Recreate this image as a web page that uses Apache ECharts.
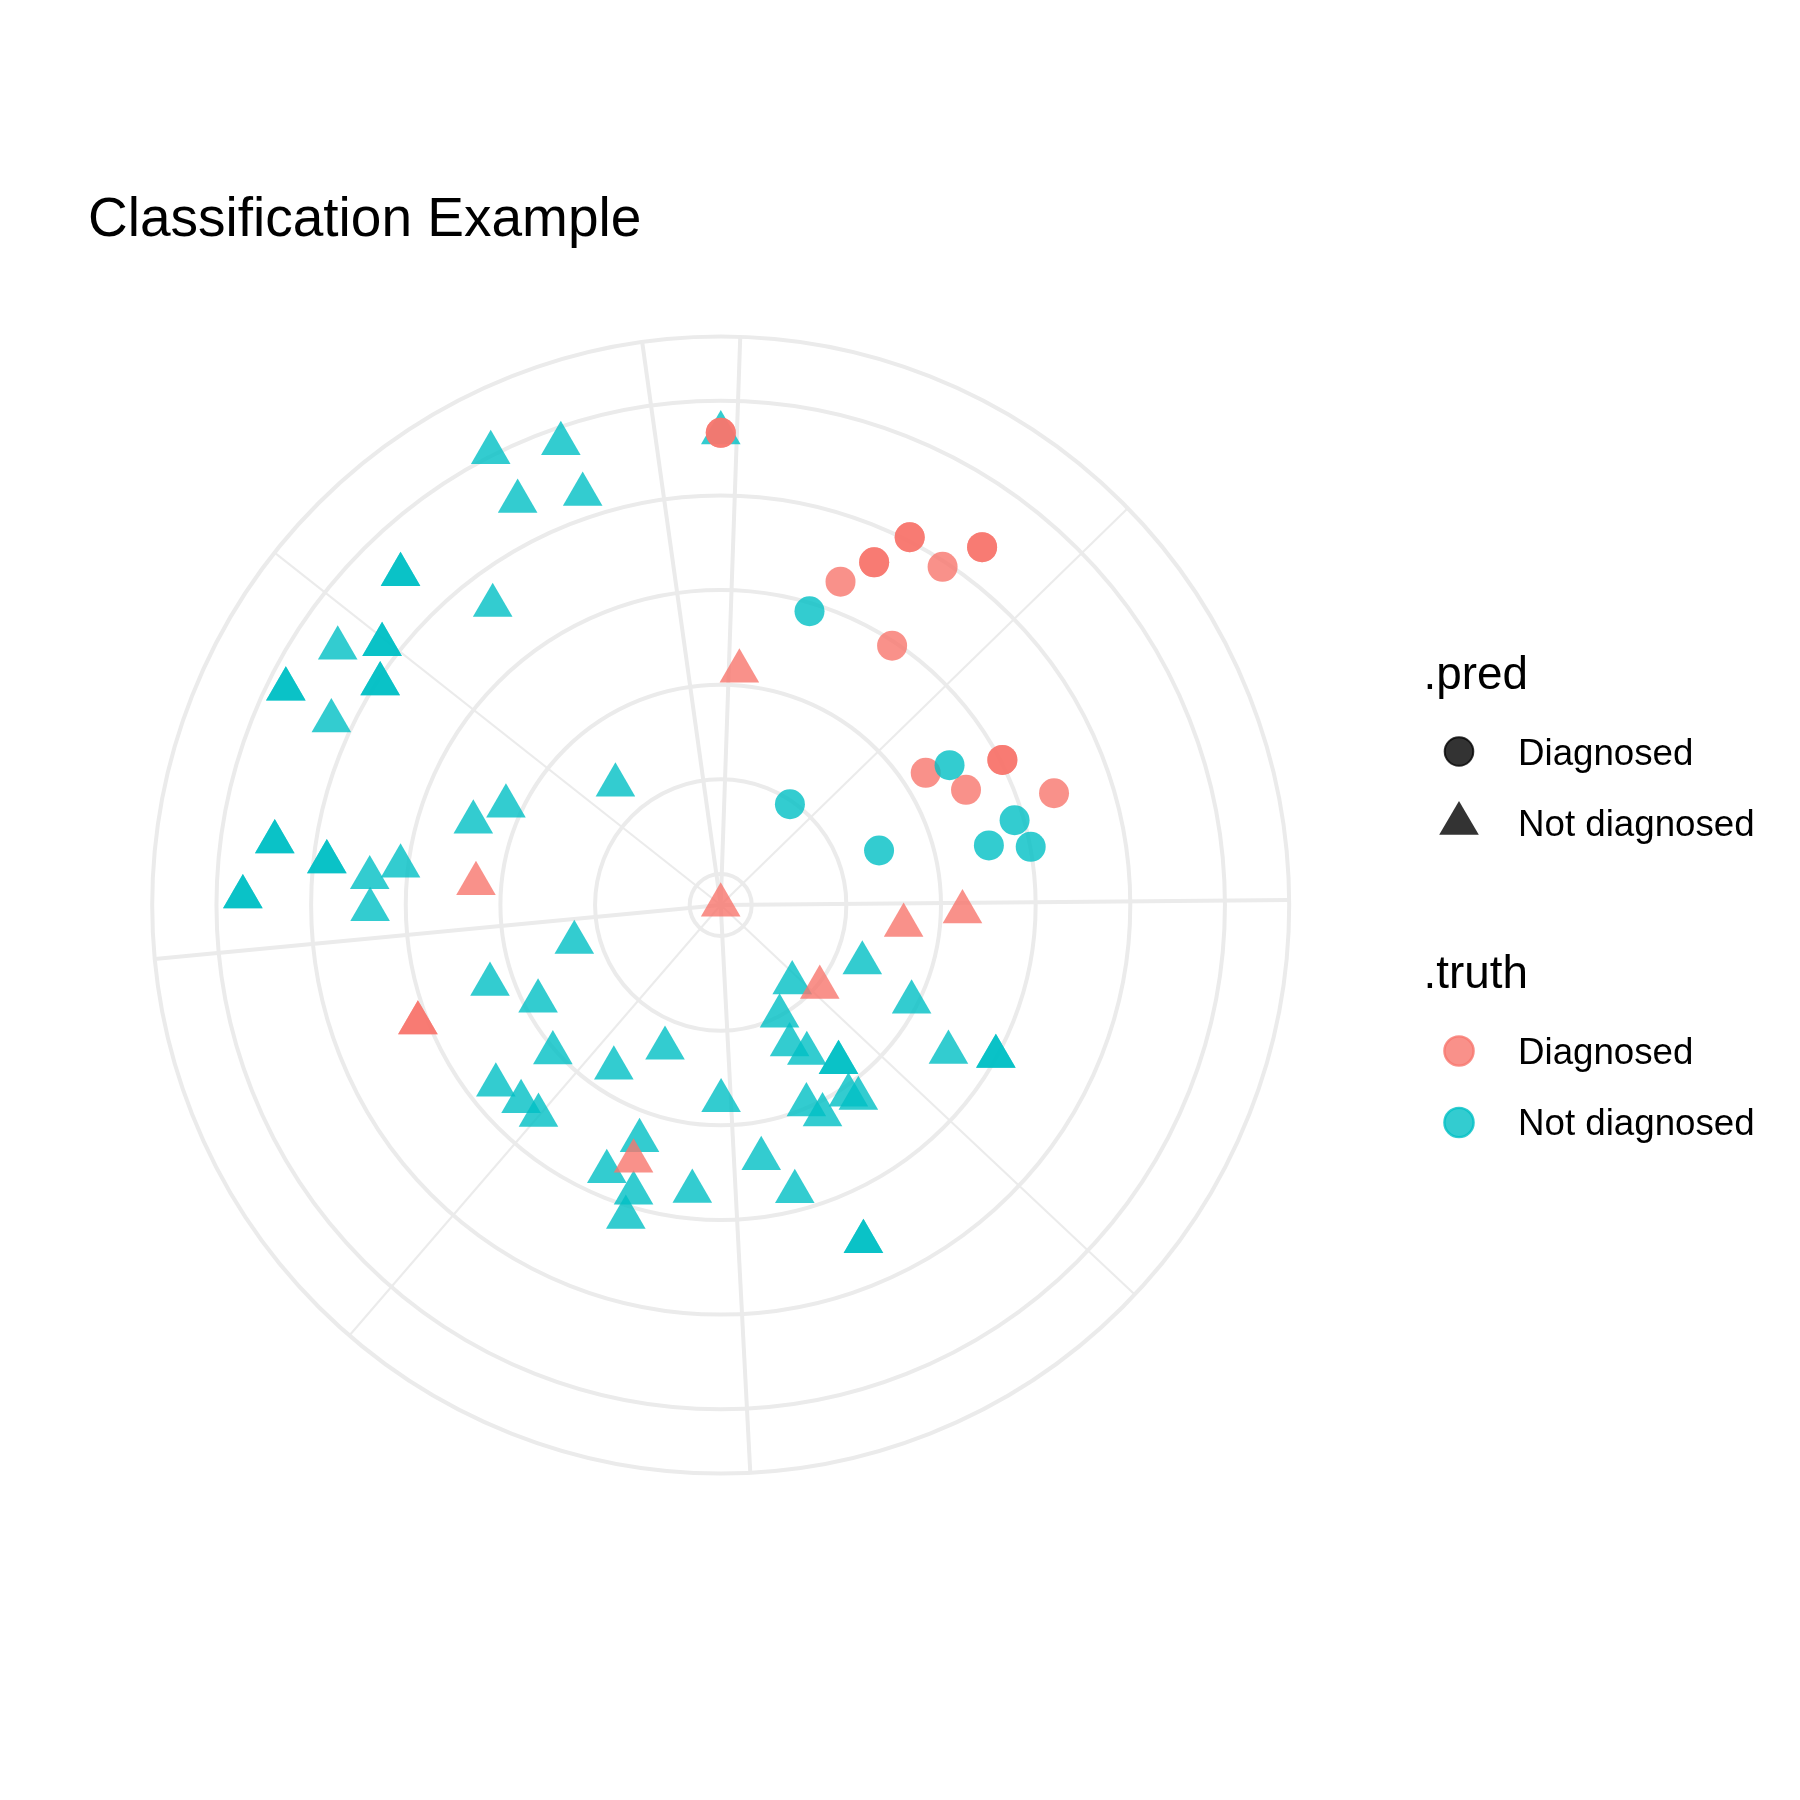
<!DOCTYPE html>
<html>
<head>
<meta charset="utf-8">
<script src="https://cdn.jsdelivr.net/npm/echarts@6/dist/echarts.min.js"></script>
<style>html,body{margin:0;padding:0;background:#fff}#chart{width:1800px;height:1800px}</style>
</head>
<body>
<div id="chart"></div>
<script>
// ---- data ----
const chartTitle = 'Classification Example';
const predLevels = ['Diagnosed', 'Not diagnosed'];
const truthLevels = ['Diagnosed', 'Not diagnosed'];
const thetaBreaks = [0, 25, 50, 75, 100];
const thetaMinorBreaks = [12.5, 37.5, 62.5, 87.5];
const thetaRange = [0, 102.83];
const radiusRange = [-0.3275, 5.679];

// each point: [radius, theta]
// .pred = Diagnosed, .truth = Diagnosed
const predDiagTruthDiag = [
  [4.661, 102.27], [4.661, 102.27],
  [4.041, 7.207], [4.041, 7.207],
  [3.640, 6.327], [3.640, 6.327],
  [4.354, 9.764], [4.354, 9.764],
  [3.020, 17.36], [3.020, 17.36],
  [3.316, 5.245], [3.946, 8.941], [2.957, 8.995],
  [2.250, 15.77], [2.536, 17.96], [3.387, 19.85]
];
// .pred = Diagnosed, .truth = Not diagnosed
const predDiagTruthNot = [
  [2.915, 4.242], [0.964, 9.289], [1.442, 19.72], [2.506, 16.17],
  [2.904, 20.55], [2.575, 21.57], [3.005, 22.11]
];
// .pred = Not diagnosed, .truth = Diagnosed
const predNotTruthDiag = [
  [2.151, 0.743], [-0.3275, 0], [2.268, 77.99], [1.617, 26.96],
  [2.228, 25.61], [1.034, 36.50], [3.106, 70.48], [3.106, 70.48],
  [2.531, 56.22]
];
// .pred = Not diagnosed, .truth = Not diagnosed
const predNotTruthNot = [
  [4.661, 102.27], [5.034, 94.57], [4.833, 96.81], [4.447, 94.64], [4.249, 96.96],
  [4.533, 89.67], [4.533, 89.67], [3.650, 91.62], [4.545, 86.23],
  [4.186, 87.29], [4.186, 87.29], [4.802, 84.10], [4.802, 84.10],
  [3.963, 85.99], [3.963, 85.99], [4.223, 83.79], [1.359, 90.48],
  [2.171, 83.63], [2.429, 81.85], [4.431, 78.86], [4.431, 78.86],
  [3.859, 78.35], [3.859, 78.35], [3.080, 78.54], [3.392, 77.83],
  [4.722, 76.84], [4.722, 76.84], [3.377, 76.35],
  [1.289, 31.50], [0.789, 38.69], [1.935, 32.84], [1.001, 42.88],
  [1.320, 43.36], [1.486, 42.25], [1.752, 40.35], [1.752, 40.35],
  [2.538, 34.54], [2.991, 33.38], [2.991, 33.38], [2.092, 41.17],
  [2.181, 40.73], [1.969, 44.22], [2.137, 43.46], [1.740, 50.82],
  [2.386, 48.26], [2.799, 46.71], [3.536, 44.29], [3.536, 44.29],
  [1.269, 72.46], [2.250, 71.14], [1.853, 68.63], [2.036, 64.74],
  [1.296, 56.92], [1.732, 60.35], [2.716, 65.51], [2.633, 63.83],
  [2.612, 62.54], [2.306, 56.28], [2.736, 57.46], [2.852, 55.66],
  [2.713, 52.47], [3.121, 55.68]
];

// ---- styling ----
const RED = '#F8766D', TEAL = '#00BFC4', GRID = '#EBEBEB';
const FONT = "'Liberation Sans', Arial, Helvetica, sans-serif";
const CENTER = [720.7, 905];
const RADIUS = 568.5;
const START = 88.03;
const TRI = [39.6, 34.2];
const TRI_OFF = [0, -TRI[1] / 6];
const CIRC = 30;

const chart = echarts.init(document.getElementById('chart'), null, {renderer: 'canvas'});

function angleAxisFor(idx, major) {
  return {
    polarIndex: idx, type: 'value', min: thetaRange[0], max: thetaRange[1],
    startAngle: START, clockwise: true,
    interval: major ? thetaBreaks[1] - thetaBreaks[0] : undefined,
    axisLine: {show: false},
    axisTick: major ? {show: false} : {show: false, customValues: thetaMinorBreaks},
    axisLabel: {show: false},
    splitLine: {show: true, lineStyle: {color: GRID, width: major ? 4 : 2}}
  };
}

const scatterBase = {
  type: 'scatter', coordinateSystem: 'polar', polarIndex: 0,
  silent: true, animation: false, clip: false,
  emphasis: {disabled: true}
};

const textStyle = (text, size) => ({
  text: text, fontSize: size, fontFamily: FONT, fill: '#000',
  verticalAlign: 'middle', align: 'left'
});

const option = {
  backgroundColor: '#ffffff',
  animation: false,
  polar: [
    {center: CENTER, radius: RADIUS},
    {center: CENTER, radius: RADIUS}
  ],
  angleAxis: [angleAxisFor(0, true), angleAxisFor(1, false)],
  radiusAxis: [
    {
      polarIndex: 0, type: 'value', min: radiusRange[0], max: radiusRange[1],
      minInterval: 1, maxInterval: 1,
      axisLine: {show: false}, axisTick: {show: false}, axisLabel: {show: false},
      splitLine: {show: true, lineStyle: {color: GRID, width: 4}}
    },
    {
      polarIndex: 1, type: 'value', min: 0, max: 1,
      axisLine: {show: false}, axisTick: {show: false}, axisLabel: {show: false},
      splitLine: {show: false}
    }
  ],
  series: [
    Object.assign({}, scatterBase, {
      name: 'Not/Not', data: predNotTruthNot, symbol: 'triangle',
      symbolSize: TRI, symbolOffset: TRI_OFF,
      itemStyle: {color: TEAL, opacity: 0.8}
    }),
    Object.assign({}, scatterBase, {
      name: 'Not/Diag', data: predNotTruthDiag, symbol: 'triangle',
      symbolSize: TRI, symbolOffset: TRI_OFF,
      itemStyle: {color: RED, opacity: 0.8}
    }),
    Object.assign({}, scatterBase, {
      name: 'Diag/Diag', data: predDiagTruthDiag, symbol: 'circle',
      symbolSize: CIRC, itemStyle: {color: RED, opacity: 0.8}
    }),
    Object.assign({}, scatterBase, {
      name: 'Diag/Not', data: predDiagTruthNot, symbol: 'circle',
      symbolSize: CIRC, itemStyle: {color: TEAL, opacity: 0.8}
    })
  ],
  graphic: [
    {type: 'text', x: 88, y: 221, silent: true, style: textStyle(chartTitle, 55)},
    // .pred legend
    {type: 'text', x: 1423.5, y: 676, silent: true, style: textStyle('.pred', 45.8)},
    {type: 'circle', silent: true, shape: {cx: 1459, cy: 751.5, r: 14.3},
     style: {fill: 'rgba(0,0,0,0.8)', stroke: 'rgba(0,0,0,0.8)', lineWidth: 2}},
    {type: 'text', x: 1518, y: 755, silent: true, style: textStyle(predLevels[0], 36.7)},
    {type: 'polygon', silent: true,
     shape: {points: [[1459, 801], [1478.8, 834.8], [1439.2, 834.8]]},
     style: {fill: 'rgba(0,0,0,0.8)'}},
    {type: 'text', x: 1518, y: 826, silent: true, style: textStyle(predLevels[1], 36.7)},
    // .truth legend
    {type: 'text', x: 1423.5, y: 975, silent: true, style: textStyle('.truth', 45.8)},
    {type: 'circle', silent: true, shape: {cx: 1459, cy: 1051, r: 14.6},
     style: {fill: 'rgba(248,118,109,0.8)', stroke: 'rgba(248,118,109,0.8)', lineWidth: 2.4}},
    {type: 'text', x: 1518, y: 1053.5, silent: true, style: textStyle(truthLevels[0], 36.7)},
    {type: 'circle', silent: true, shape: {cx: 1459, cy: 1122.5, r: 14.6},
     style: {fill: 'rgba(0,191,196,0.8)', stroke: 'rgba(0,191,196,0.8)', lineWidth: 2.4}},
    {type: 'text', x: 1518, y: 1124.5, silent: true, style: textStyle(truthLevels[1], 36.7)}
  ]
};
chart.setOption(option);
</script>
</body>
</html>
